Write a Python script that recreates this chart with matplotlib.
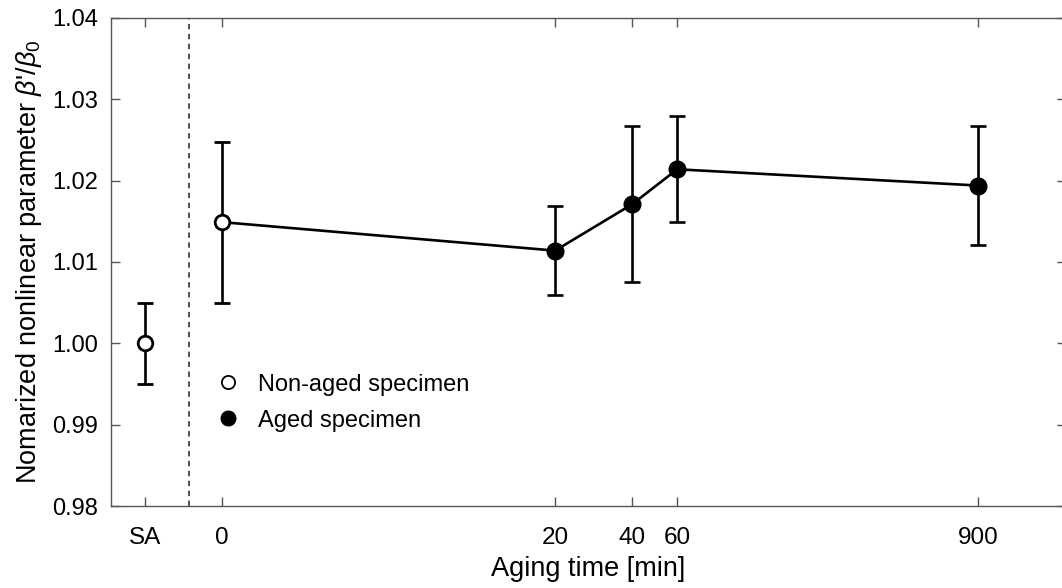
import matplotlib
matplotlib.use("Agg")
import matplotlib.pyplot as plt
from matplotlib.lines import Line2D

plt.rcParams['font.family'] = ['Liberation Sans', 'DejaVu Sans']
plt.rcParams['mathtext.fontset'] = 'custom'
plt.rcParams['mathtext.rm'] = 'Liberation Sans'
plt.rcParams['mathtext.it'] = 'Liberation Sans:italic'

# Data (x plotted on a log axis; "0" min plotted at 1, "SA" at 0.5)
tick_pos = [0.5, 1, 20, 40, 60, 900]
tick_labels = ["SA", "0", "20", "40", "60", "900"]

sa_x = [0.5]
sa_y = [1.0000]
sa_err = [0.0050]

nonaged_x = [1]
nonaged_y = [1.0149]
nonaged_err = [0.0099]

aged_x = [20, 40, 60, 900]
aged_y = [1.0114, 1.0171, 1.0214, 1.0194]
aged_err = [0.0055, 0.0096, 0.0065, 0.0073]

line_x = nonaged_x + aged_x
line_y = nonaged_y + aged_y

separator_x = 0.74

fig = plt.figure(figsize=(10.62, 5.88), dpi=100)
ax = fig.add_axes([111/1062, 1-506/588, (1066-111)/1062, (506-18)/588])

ax.set_xscale('log')
ax.set_xlim(0.368, 1982)
ax.set_ylim(0.98, 1.04)

lw = 1.9
ax.plot(line_x, line_y, color='black', lw=lw, zorder=2)
ax.axvline(separator_x, color='#444444', lw=1.3, ls=(0, (3, 2.5)), zorder=1)

ax.errorbar(sa_x, sa_y, yerr=sa_err, fmt='o', ms=10.5, mfc='white', mec='black',
            mew=2.0, ecolor='black', elinewidth=lw, capsize=6, capthick=lw, zorder=3)
ax.errorbar(nonaged_x, nonaged_y, yerr=nonaged_err, fmt='o', ms=10.5, mfc='white', mec='black',
            mew=2.0, ecolor='black', elinewidth=lw, capsize=6, capthick=lw, zorder=3)
ax.errorbar(aged_x, aged_y, yerr=aged_err, fmt='o', ms=12, mfc='black', mec='black',
            ecolor='black', elinewidth=lw, capsize=6, capthick=lw, zorder=3)

ax.set_xticks(tick_pos)
ax.set_xticklabels(tick_labels)
ax.minorticks_off()
ax.set_yticks([0.98, 0.99, 1.00, 1.01, 1.02, 1.03, 1.04])
ax.set_yticklabels(["0.98", "0.99", "1.00", "1.01", "1.02", "1.03", "1.04"])

ax.tick_params(direction='in', length=6.5, width=1.0, color='#555555',
               top=True, right=True, labelsize=17)
ax.tick_params(axis='x', pad=15, labelsize=17.5)
ax.tick_params(axis='y', pad=9.5)
for s in ax.spines.values():
    s.set_color('#555555')
    s.set_linewidth(1.0)

ax.set_xlabel("Aging time [min]", fontsize=19.5, labelpad=5)
ax.set_ylabel(r"Nomarized nonlinear parameter $\beta$'/$\beta_0$", fontsize=19.5, labelpad=6)

handles = [
    Line2D([], [], ls='none', marker='o', ms=9.5, mfc='white', mec='black', mew=1.3),
    Line2D([], [], ls='none', marker='o', ms=10.5, mfc='black', mec='black'),
]
ax.legend(handles, ["Non-aged specimen", "Aged specimen"], loc='upper left',
          bbox_to_anchor=(0.085, 0.315), frameon=False, fontsize=17,
          handlelength=1.2, handletextpad=0.7, labelspacing=0.6)

fig.savefig("out.png", dpi=100)
